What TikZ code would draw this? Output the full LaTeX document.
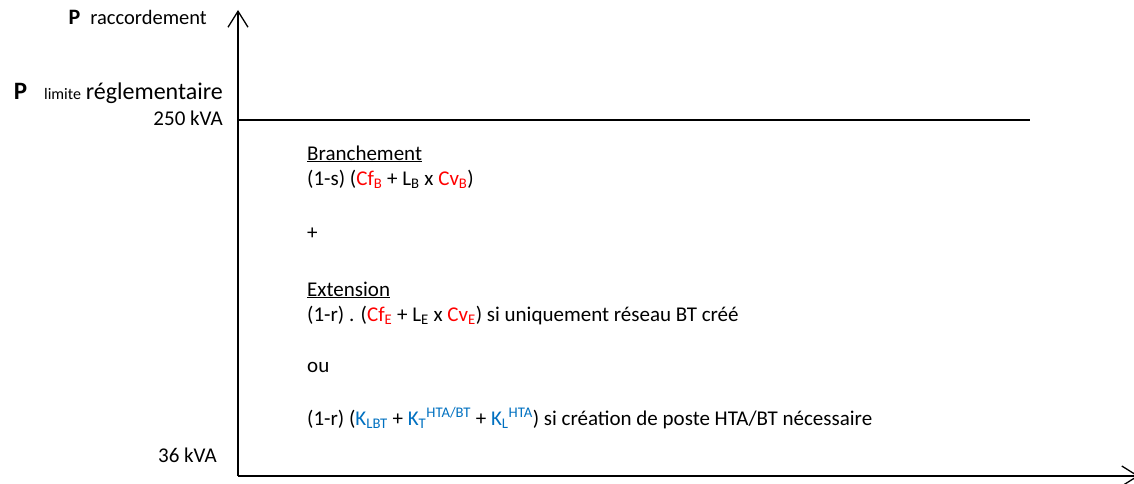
\documentclass[tikz,border=0pt]{standalone}
\usepackage{fontspec}
\setmainfont{Carlito}
\usetikzlibrary{arrows.meta,positioning}
\definecolor{coutrouge}{RGB}{255,0,0}
\definecolor{coutbleu}{RGB}{0,112,192}
\newcommand{\rouge}[1]{\textcolor{coutrouge}{#1}}
\newcommand{\bleu}[1]{\textcolor{coutbleu}{#1}}
\newcommand{\taille}[1]{\fontsize{#1}{#1}\selectfont}
\begin{document}
\begin{tikzpicture}[x=1pt, y=-1pt,
                    every node/.style={inner sep=0pt, font=\taille{21}},
                    axe/.style={line width=1.3pt, -{Straight Barb[length=16pt,width=20pt,line width=1.3pt]}},
                    seuil/.style={line width=1.3pt},
                    axelabel/.style={anchor=base east},
                    formule/.style={anchor=base west}]
  \useasboundingbox (0,0) rectangle (1134,484);
  % axes
  \coordinate (origine) at (238,476);
  \coordinate (haut) at (238,10);
  \coordinate (droite) at (1139,476);
  \draw[axe] (origine) -- (haut);
  \draw[axe] (origine) -- (droite);
  % limite 250 kVA
  \coordinate (seuilg) at (238,120);
  \coordinate (seuild) at (1030,120);
  \draw[seuil] (seuilg) -- (seuild);
  % graduations
  \node[axelabel](praccord) at (207,25) {{\taille{22}\bfseries P}\hspace*{10pt}{\taille{20.5}raccordement}};
  \node[axelabel](plimite) at (223,100) {{\taille{25}\bfseries P}\hspace*{17pt}{\taille{16}limite} {\taille{24}réglementaire}};
  \node[axelabel](p250) at (223,125) {250 kVA};
  \node[axelabel](p36) at (217,462) {36 kVA};
  % couts
  \node[formule](branch) at (307,160) {\underline{Branchement}};
  \node[formule](formB) at (307,185) {(1-s) (\rouge{Cf\textsubscript{B}} + L\textsubscript{B} x \rouge{Cv\textsubscript{B}})};
  \node[formule](plus) at (307,239) {+};
  \node[formule](ext) at (307,296) {\underline{Extension}};
  \node[formule](formE) at (307,321) {(1-r) . (\rouge{Cf\textsubscript{E}} + L\textsubscript{E} x \rouge{Cv\textsubscript{E}}) si uniquement réseau BT créé};
  \node[formule](ou) at (307,372) {ou};
  \node[formule](formK) at (307,425) {(1-r) (\bleu{K\textsubscript{LBT}} + \bleu{K\textsubscript{T}\textsuperscript{HTA/BT}} + \bleu{K\textsubscript{L}\textsuperscript{HTA}}) si création de poste HTA/BT nécessaire};
\end{tikzpicture}
\end{document}
